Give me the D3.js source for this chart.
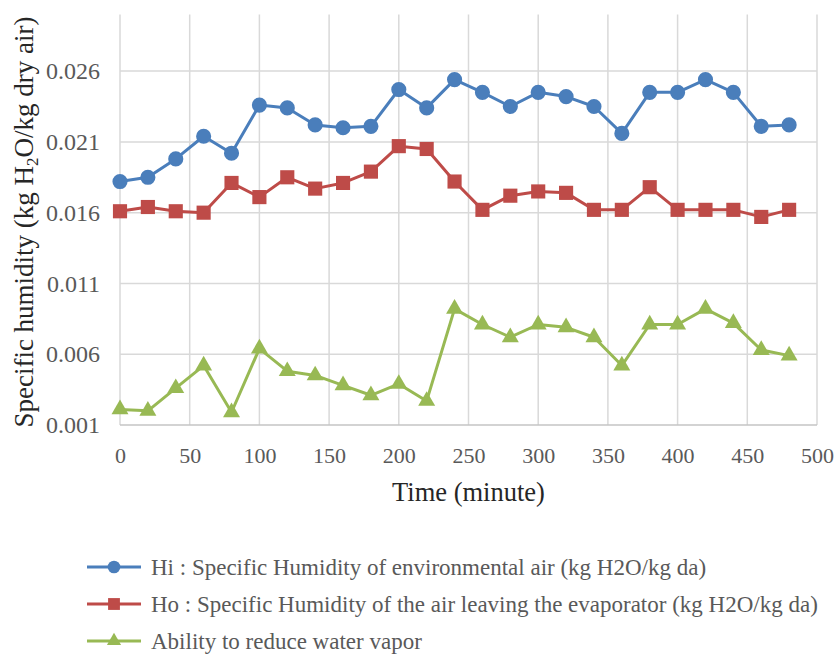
<!DOCTYPE html>
<html>
<head>
<meta charset="utf-8">
<script src="https://cdn.jsdelivr.net/npm/d3@7"></script>
<style>
  html, body { margin: 0; padding: 0; background: #fff; }
  svg { display: block; }
</style>
</head>
<body>
<svg id="chart" width="840" height="654"></svg>
<script>
// Sampling times (minutes)
const times = [0, 20, 40, 60, 80, 100, 120, 140, 160, 180, 200, 220, 240,
               260, 280, 300, 320, 340, 360, 380, 400, 420, 440, 460, 480];

// Hi : specific humidity of environmental air (kg H2O / kg dry air)
const hiValues = [0.0182, 0.0185, 0.0198, 0.0214, 0.0202, 0.0236, 0.0234, 0.0222, 0.0220,
                  0.0221, 0.0247, 0.0234, 0.0254, 0.0245, 0.0235, 0.0245, 0.0242, 0.0235,
                  0.0216, 0.0245, 0.0245, 0.0254, 0.0245, 0.0221, 0.0222];

// Ho : specific humidity of the air leaving the evaporator (kg H2O / kg dry air)
const hoValues = [0.0161, 0.0164, 0.0161, 0.0160, 0.0181, 0.0171, 0.0185, 0.0177, 0.0181,
                  0.0189, 0.0207, 0.0205, 0.0182, 0.0162, 0.0172, 0.0175, 0.0174, 0.0162,
                  0.0162, 0.0178, 0.0162, 0.0162, 0.0162, 0.0157, 0.0162];

// Ability to reduce water vapor
const abilityValues = [0.0021, 0.0020, 0.0036, 0.0052, 0.0019, 0.0064, 0.0048, 0.0045, 0.0038,
                       0.0031, 0.0039, 0.0027, 0.0092, 0.0081, 0.0072, 0.0081, 0.0079, 0.0072,
                       0.0052, 0.0081, 0.0081, 0.0092, 0.0082, 0.0063, 0.0059];

const xTicks = [0, 50, 100, 150, 200, 250, 300, 350, 400, 450, 500];
const yTicks = [0.001, 0.006, 0.011, 0.016, 0.021, 0.026];

const seriesNames = [
  "Hi : Specific Humidity of environmental air (kg H2O/kg da)",
  "Ho : Specific Humidity of the air leaving the evaporator (kg H2O/kg da)",
  "Ability to reduce water vapor"
];
const seriesColors = ["#4a7ebb", "#be4b48", "#98b954"];
const seriesSymbols = [d3.symbolCircle, d3.symbolSquare, d3.symbolTriangle];
const seriesSizes = [180, 200, 125];

const series = [hiValues, hoValues, abilityValues].map((vals, i) => ({
  name: seriesNames[i],
  color: seriesColors[i],
  symbol: seriesSymbols[i],
  size: seriesSizes[i],
  points: times.map((t, j) => ({ t, v: vals[j] }))
}));

const svg = d3.select("#chart");
const serif = "'Liberation Serif', 'Times New Roman', serif";

const plot = { left: 120, right: 817, top: 14.5, bottom: 425 };

const x = d3.scaleLinear().domain([0, 500]).range([plot.left, plot.right]);
const y = d3.scaleLinear().domain([0.001, 0.030]).range([plot.bottom, plot.top]);

// Gridlines
const grid = svg.append("g").attr("stroke", "#d9d9d9").attr("stroke-width", 1.5);
grid.selectAll("line.h").data(yTicks.slice(1)).join("line")
  .attr("x1", plot.left).attr("x2", plot.right)
  .attr("y1", d => y(d)).attr("y2", d => y(d));
grid.selectAll("line.v").data(xTicks).join("line")
  .attr("x1", d => x(d)).attr("x2", d => x(d))
  .attr("y1", plot.top).attr("y2", plot.bottom);

// Horizontal axis line
svg.append("line")
  .attr("x1", plot.left).attr("x2", plot.right)
  .attr("y1", y(0.001)).attr("y2", y(0.001))
  .attr("stroke", "#c4c4c4").attr("stroke-width", 1.6);

// Axes (labels only; lines drawn above)
const xAxis = svg.append("g")
  .attr("transform", `translate(0,${plot.bottom})`)
  .call(d3.axisBottom(x).tickValues(xTicks).tickSize(0).tickPadding(22).tickFormat(d3.format("d")));
xAxis.select(".domain").remove();
xAxis.attr("font-family", serif);
xAxis.selectAll("text")
  .attr("font-size", 22).attr("fill", "#595959");

const yAxis = svg.append("g")
  .attr("transform", `translate(${plot.left},0)`)
  .call(d3.axisLeft(y).tickValues(yTicks).tickSize(0).tickPadding(20).tickFormat(d3.format(".3f")));
yAxis.select(".domain").remove();
yAxis.attr("font-family", serif);
yAxis.selectAll("text")
  .attr("font-size", 24).attr("fill", "#595959");

// Axis titles
svg.append("text")
  .attr("x", x(250)).attr("y", 501)
  .attr("text-anchor", "middle")
  .attr("font-family", serif).attr("font-size", 26.5).attr("fill", "#262626")
  .text("Time (minute)");

const yTitle = svg.append("text")
  .attr("transform", "translate(33,222) rotate(-90)")
  .attr("text-anchor", "middle")
  .attr("font-family", serif).attr("font-size", 27).attr("fill", "#262626");
yTitle.append("tspan").text("Specific humidity (kg H");
yTitle.append("tspan").attr("font-size", 17).attr("dy", 5).text("2");
yTitle.append("tspan").attr("dy", -5).text("O/kg dry air)");

// Lines and markers
const line = d3.line().x(d => x(d.t)).y(d => y(d.v));

const sg = svg.selectAll("g.series").data(series).join("g").attr("class", "series");
sg.append("path")
  .attr("d", d => line(d.points))
  .attr("fill", "none")
  .attr("stroke", d => d.color)
  .attr("stroke-width", 3)
  .attr("stroke-linejoin", "round");
sg.each(function (s) {
  d3.select(this).selectAll("path.marker").data(s.points).join("path")
    .attr("class", "marker")
    .attr("transform", d => `translate(${x(d.t)},${y(d.v)})`)
    .attr("d", d3.symbol().type(s.symbol).size(s.size))
    .attr("fill", s.color);
});

// Legend
const legendRows = [567, 604, 641];
const lg = svg.selectAll("g.legend").data(series).join("g")
  .attr("class", "legend")
  .attr("transform", (d, i) => `translate(0,${legendRows[i]})`);
lg.append("line")
  .attr("x1", 87).attr("x2", 141).attr("y1", 0).attr("y2", 0)
  .attr("stroke", d => d.color).attr("stroke-width", 3);
lg.append("path")
  .attr("transform", "translate(114,0)")
  .attr("d", d => d3.symbol().type(d.symbol).size(d.size * 0.7)())
  .attr("fill", d => d.color);
lg.append("text")
  .attr("x", 151).attr("y", 7.5)
  .attr("font-family", serif).attr("font-size", 23).attr("fill", "#595959")
  .text(d => d.name);
</script>
</body>
</html>
